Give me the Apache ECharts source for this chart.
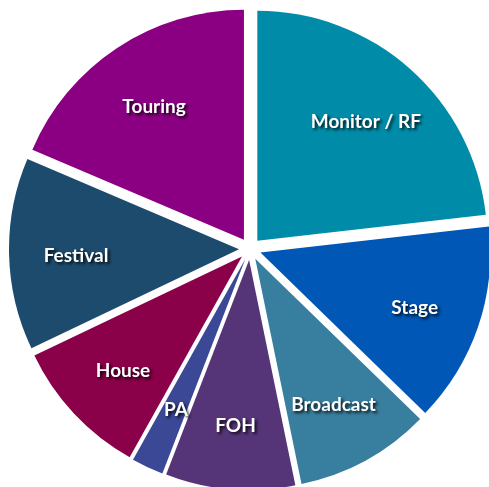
<!DOCTYPE html>
<html>
<head>
<meta charset="utf-8">
<script src="https://cdn.jsdelivr.net/npm/echarts@6/dist/echarts.min.js"></script>
<style>
  html, body { margin: 0; padding: 0; background: #fff; }
  #container { width: 489px; height: 487px; }
</style>
</head>
<body>
<div id="container"></div>
<script>
// slices clockwise from 12 o'clock
const categories = ["Monitor / RF", "Stage", "Broadcast", "FOH", "PA", "House", "Festival", "Touring"];
const shares = [23.2, 14.1, 9.5, 9.1, 2.25, 9.8, 13.5, 18.6];
const sliceColors = ["#008ca8", "#0057b5", "#387e9e", "#553578", "#3a4896", "#8a0049", "#1c4b6d", "#8b0083"];

function buildData(withColor) {
  let out = [];
  for (let i = 0; i < categories.length; i++) {
    out.push({
      name: categories[i],
      value: shares[i],
      selected: true,
      itemStyle: { color: withColor ? sliceColors[i] : "rgba(0,0,0,0)" }
    });
  }
  return out;
}

const chart = echarts.init(document.getElementById("container"));
const option = {
  animation: false,
  series: [
    {
      // the visible, exploded pie
      type: "pie",
      center: [250, 249],
      radius: 230,
      startAngle: 90,
      clockwise: true,
      selectedMode: "multiple",
      selectedOffset: 11,
      silent: true,
      label: { show: false },
      labelLine: { show: false },
      emphasis: { disabled: true },
      data: buildData(true)
    },
    {
      // transparent ring only used to put labels at ~70% of the radius
      type: "pie",
      center: [250, 252],
      radius: [90, 230],
      startAngle: 90,
      clockwise: true,
      selectedMode: "multiple",
      selectedOffset: 11,
      silent: true,
      labelLine: { show: false },
      emphasis: { disabled: true },
      label: {
        show: true,
        position: "inside",
        formatter: "{b}",
        color: "#fff",
        fontFamily: "Lato",
        fontWeight: "bold",
        fontSize: 19,
        textShadowColor: "rgba(0,0,0,0.85)",
        textShadowBlur: 3,
        textShadowOffsetX: 2,
        textShadowOffsetY: 2
      },
      data: buildData(false)
    }
  ]
};
chart.setOption(option);
</script>
</body>
</html>
